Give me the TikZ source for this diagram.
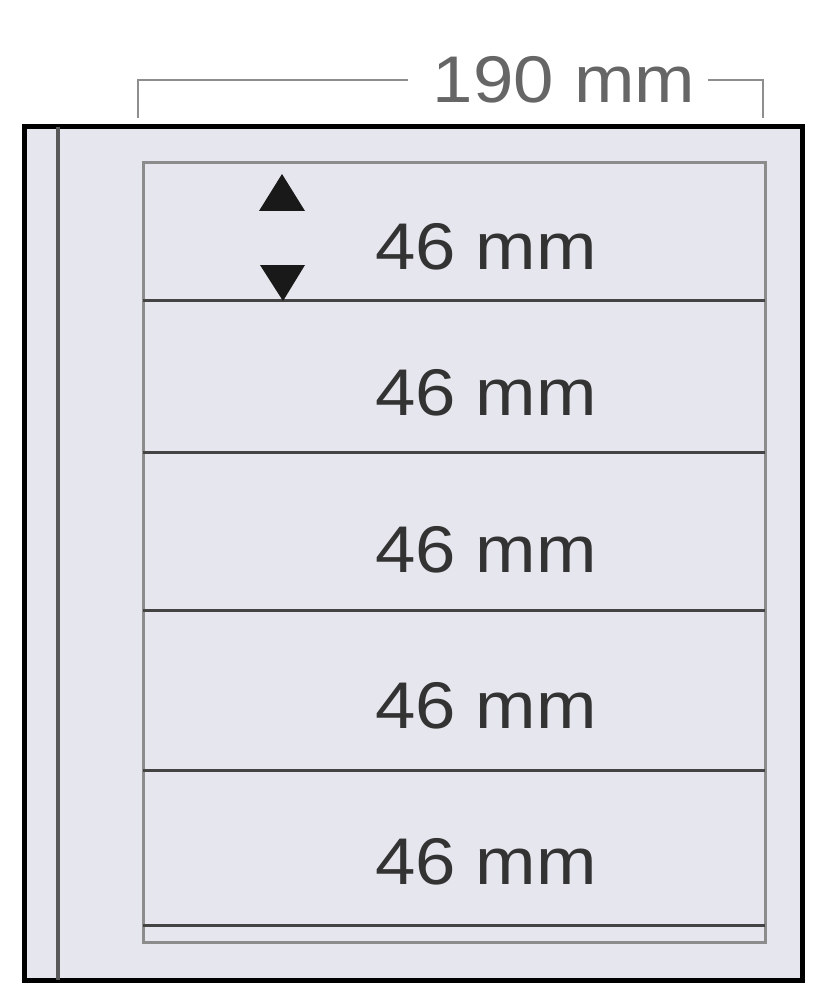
\documentclass[tikz,border=0pt]{standalone}
\usepackage{fontspec}
\setmainfont{Liberation Sans}[FakeStretch=1.1]
\definecolor{pagefill}{HTML}{E6E6EE}
\definecolor{stripline}{HTML}{444444}
\definecolor{framegray}{HTML}{8C8C8C}
\definecolor{dimgray}{HTML}{8E8E8E}
\definecolor{textgray}{HTML}{333333}

\begin{document}
\begin{tikzpicture}[x=0.5pt, y=-0.5pt,
		strip/.style={color=stripline, line width=1.5pt},
		mmlabel/.style={anchor=base, text=textgray, inner sep=0pt, font=\fontsize{33}{33}\selectfont},
		dimline/.style={color=dimgray, line width=1pt}]
		\useasboundingbox (0,0) rectangle (829,1000);

		% Blatt
		\draw[line width=2.5pt, fill=pagefill] (24,127) rectangle (802,980);
		\draw[line width=2pt, color=black!65] (58,127) -- (58,980);

		% Streifen
		\draw[color=framegray, line width=1.5pt] (143,163) rectangle (765,942);
		\draw[strip] (143,300) -- (765,300);
		\draw[strip] (143,452) -- (765,452);
		\draw[strip] (143,610) -- (765,610);
		\draw[strip] (143,770) -- (765,770);
		\draw[strip] (143,925) -- (765,925);

		\draw (486,270) node[mmlabel] (s1) {46 mm};
		\draw (486,415) node[mmlabel] (s2) {46 mm};
		\draw (486,572) node[mmlabel] (s3) {46 mm};
		\draw (486,728) node[mmlabel] (s4) {46 mm};
		\draw (486,884) node[mmlabel] (s5) {46 mm};

		\fill[black!90] (282,174) -- (305,211) -- (259,211) -- cycle;
		\fill[black!90] (260,265) -- (305,265) -- (283,301) -- cycle;

		% Breite
		\draw (564,80) node[text=textgray!75, inner sep=6pt, font=\fontsize{33}{33}\selectfont] (breite) {190 mm};
		\coordinate (dl) at (138,118);
		\coordinate (dr) at (763,118);
		\draw[dimline] (dl) |- ([xshift=-6pt]breite.west);
		\draw[dimline] (breite.east) -| (dr);
	\end{tikzpicture}
\end{document}
